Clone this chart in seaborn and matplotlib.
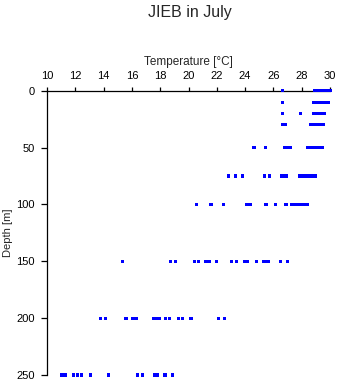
import matplotlib
matplotlib.use("Agg")
import matplotlib.pyplot as plt
import seaborn as sns
import pandas as pd

title = "JIEB in July"
x_label = "Temperature [°C]"
y_label = "Depth [m]"
x_ticks = [10, 12, 14, 16, 18, 20, 22, 24, 26, 28, 30]
y_ticks = [0, 50, 100, 150, 200, 250]

depth_levels = [0, 10, 20, 30, 50, 75, 100, 150, 200, 250]
temps_0 = [26.65, 28.9, 29.05, 29.2, 29.35, 29.5, 29.65, 29.8, 30.0]
temps_10 = [26.65, 28.85, 29.0, 29.15, 29.3, 29.45, 29.6, 29.75, 29.9]
temps_20 = [26.65, 27.93, 28.85, 29.0, 29.15, 29.3, 29.45, 29.6]
temps_30 = [26.65, 26.85, 28.65, 28.8, 28.95, 29.1, 29.25, 29.4, 29.55]
temps_50 = [24.63, 25.43, 26.8, 27.0, 27.2, 28.4, 28.55, 28.7, 28.85, 29.0,
            29.15, 29.3, 29.45]
temps_75 = [22.82, 23.3, 23.8, 25.4, 25.72, 26.6, 26.75, 26.9, 27.85, 28.0,
            28.15, 28.35, 28.5, 28.65, 28.8, 29.0]
temps_100 = [20.58, 21.59, 22.49, 24.1, 24.35, 25.48, 26.18, 26.89, 27.25,
             27.45, 27.64, 27.85, 28.0, 28.2, 28.4]
temps_150 = [15.35, 18.74, 19.07, 20.41, 20.69, 21.24, 21.45, 21.99, 23.03,
             23.4, 23.94, 24.18, 24.79, 25.28, 25.45, 25.66, 26.5, 27.0]
temps_200 = [13.77, 14.15, 15.58, 16.03, 16.29, 17.55, 17.75, 17.95, 18.36,
             18.64, 19.28, 19.56, 20.18, 22.13, 22.53]
temps_250 = [11.06, 11.3, 11.88, 12.17, 12.45, 13.1, 14.33, 16.38, 16.73,
             17.63, 17.82, 18.34, 18.88]

all_temps = [temps_0, temps_10, temps_20, temps_30, temps_50, temps_75,
             temps_100, temps_150, temps_200, temps_250]

rows = []
for d, ts in zip(depth_levels, all_temps):
    for t in ts:
        rows.append({"temp": t, "depth": d})
df = pd.DataFrame(rows)

sns.set_style("ticks")
plt.rcParams["font.family"] = ["Liberation Sans", "DejaVu Sans"]

W, H = 341, 384
fig = plt.figure(figsize=(W / 100, H / 100), dpi=100)
ax = fig.add_axes([47 / W, 9 / H, (330 - 47) / W, (375 - 90.7) / H])

sns.scatterplot(data=df, x="temp", y="depth", ax=ax, marker="s", s=5,
                color="#0000ff", linewidth=0, edgecolor="none",
                clip_on=False, zorder=5)

ax.set_xlim(10, 30)
ax.set_ylim(250, 0)
ax.set_xticks(x_ticks)
ax.set_yticks(y_ticks)
ax.xaxis.tick_top()
ax.xaxis.set_label_position("top")
for s in ["right", "bottom"]:
    ax.spines[s].set_visible(False)
for s in ["top", "left"]:
    ax.spines[s].set_linewidth(0.9)
    ax.spines[s].set_color("black")
ax.tick_params(axis="x", length=3, width=0.9, pad=4, labelsize=8, colors="black")
ax.tick_params(axis="y", length=4, width=0.9, pad=5, labelsize=8, colors="black")
ax.set_xlabel(x_label, fontsize=8.5, labelpad=4)
ax.set_ylabel(y_label, fontsize=8, labelpad=2)
fig.text(189.5 / W, 1 - 12 / H, title, ha="center", va="center", fontsize=11.5)

fig.savefig("out.png", dpi=100)
